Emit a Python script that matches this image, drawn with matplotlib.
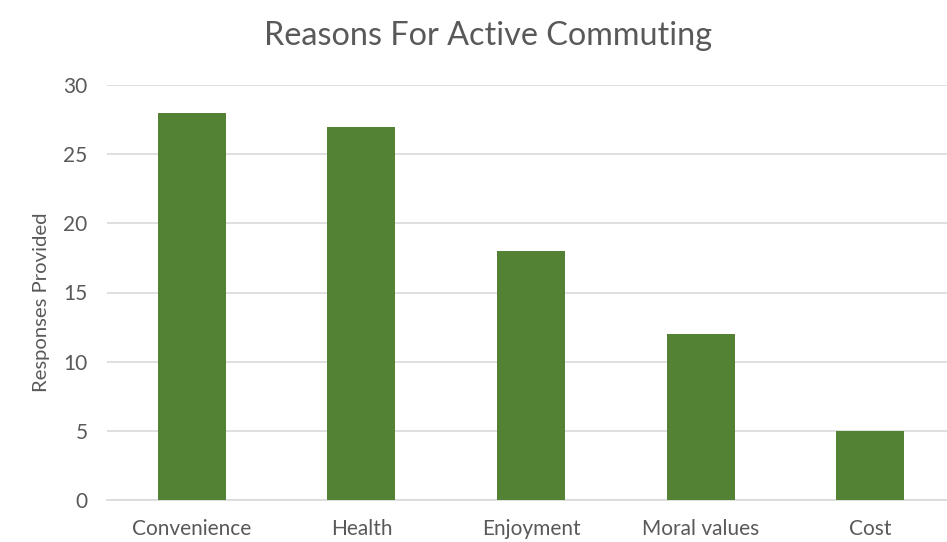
import matplotlib.pyplot as plt

# Dữ liệu
categories = ["Convenience", "Health", "Enjoyment", "Moral values", "Cost"]
responses = [28, 27, 18, 12, 5]
y_ticks = [0, 5, 10, 15, 20, 25, 30]

BAR_COLOR = "#548235"
TEXT_COLOR = "#595959"
GRID_COLOR = "#d9d9d9"

plt.rcParams['font.family'] = ['Lato', 'DejaVu Sans']

fig = plt.figure(figsize=(9.47, 5.42), dpi=100)
# vùng vẽ lệch sang phải, bị cắt ở mép ảnh như bản gốc
ax = fig.add_axes([107 / 947, 42 / 542, 848 / 947, 415 / 542])

x = list(range(len(categories)))
ax.bar(x, responses, width=0.4, color=BAR_COLOR, zorder=3)

ax.set_xlim(-0.5, len(categories) - 0.5)
ax.set_ylim(0, 30)
ax.set_yticks(y_ticks)
ax.set_xticks(x)
ax.set_xticklabels(categories)

ax.grid(axis='y', color=GRID_COLOR, linewidth=1.2, zorder=0)
for side in ['top', 'right', 'left']:
    ax.spines[side].set_visible(False)
ax.spines['bottom'].set_color(GRID_COLOR)
ax.spines['bottom'].set_linewidth(1.2)

ax.tick_params(axis='both', length=0, labelsize=15, colors=TEXT_COLOR)
ax.tick_params(axis='y', pad=14)
ax.tick_params(axis='x', pad=14)

ax.set_ylabel("Responses Provided", fontsize=14.6, color=TEXT_COLOR)
ax.yaxis.set_label_coords(-0.067, 0.477)

fig.text(488 / 947, 506 / 542, "Reasons For Active Commuting", ha='center', va='center',
         fontsize=23.3, color=TEXT_COLOR)

fig.savefig("out.png", dpi=100)
